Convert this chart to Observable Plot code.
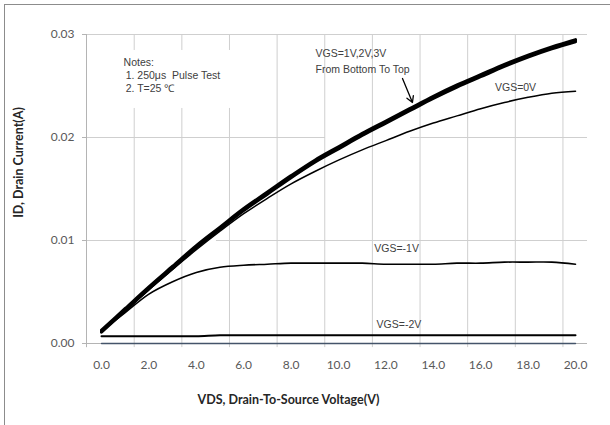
<!DOCTYPE html>
<html>
<head>
<meta charset="utf-8">
<script src="https://cdn.jsdelivr.net/npm/d3@7"></script>
<script src="https://cdn.jsdelivr.net/npm/@observablehq/plot@0.6"></script>
<style>
  html, body { margin: 0; padding: 0; background: white; }
  #wrap { position: relative; width: 610px; height: 425px; overflow: hidden; }
  #border { position: absolute; left: 4px; top: 4px; width: 700px; height: 500px;
            border-left: 1px solid #8c8c8c; border-top: 1px solid #8c8c8c; pointer-events: none; }
  svg text { white-space: pre; }
</style>
</head>
<body>
<div id="wrap"><div id="chart"></div><div id="border"></div></div>
<script>
// ---- data ----
const vds = [0,1,2,3,4,5,6,7,8,9,10,11,12,13,14,15,16,17,18,19,20];
const idVgs3 = [0.0013,0.0034,0.0055,0.0075,0.0095,0.0113,0.0131,0.0147,0.0163,0.0178,0.0191,0.0204,0.0216,0.0228,0.0240,0.0251,0.0261,0.0271,0.0280,0.0288,0.0295];
const idVgs2 = [0.0012,0.0033,0.0054,0.0074,0.0094,0.0112,0.0130,0.0146,0.0162,0.0177,0.0190,0.0203,0.0215,0.0227,0.0239,0.0250,0.0260,0.0270,0.0279,0.0287,0.0294];
const idVgs1 = [0.0011,0.0032,0.0053,0.0073,0.0093,0.0111,0.0129,0.0145,0.0161,0.0176,0.0189,0.0202,0.0214,0.0226,0.0238,0.0249,0.0259,0.0269,0.0278,0.0286,0.0293];
const idVgs0 = [0.0012,0.0032,0.0052,0.0072,0.0091,0.0109,0.0126,0.0141,0.0155,0.0167,0.0178,0.0188,0.0197,0.0206,0.0214,0.0221,0.0228,0.0234,0.0239,0.0243,0.0245];
const idVgsM1 = [0.0012,0.0030,0.0048,0.0060,0.0069,0.0074,0.0076,0.0077,0.0078,0.0078,0.0078,0.0078,0.0077,0.0077,0.0077,0.0078,0.0078,0.0079,0.0079,0.0079,0.0077];
const idVgsM2 = [0.0007,0.0007,0.0007,0.0007,0.0007,0.0008,0.0008,0.0008,0.0008,0.0008,0.0008,0.0008,0.0008,0.0008,0.0008,0.0008,0.0008,0.0008,0.0008,0.0008,0.0008];
const idVgsM3 = [0,0,0,0,0,0,0,0,0,0,0,0,0,0,0,0,0,0,0,0,0];

const xTicks = [0,2,4,6,8,10,12,14,16,18,20];
const xGrid = [-0.633,1.38,3.39,5.40,7.41,9.42,11.43,13.44,15.45,17.46,19.47];
const yTicks = [0,0.01,0.02,0.03];

const xDomain = [-0.633, 20.506];
const yDomain = [0, 0.03];

const toRows = (ys) => vds.map((x, i) => ({x, y: ys[i]}));

const gridColor = "#cfcfcf";
const axisColor = "#b4b4b4";
const labelColor = "#595959";
const noteColor = "#404040";
const noteFont = "Liberation Sans, Arial, sans-serif";

const notes = [
  {x: 0.93, y: 0.02728, t: "Notes:"},
  {x: 1.02, y: 0.02602, t: "1. 250\u03bcs  Pulse Test"},
  {x: 1.02, y: 0.02476, t: "2. T=25 \u2103"}
];
const leftLabels = [
  {x: 9.03, y: 0.02816, t: "VGS=1V,2V,3V"},
  {x: 9.03, y: 0.02660, t: "From Bottom To Top"}
];
const centerLabels = [
  {x: 17.47, y: 0.02485, t: "VGS=0V"},
  {x: 12.45, y: 0.00922, t: "VGS=-1V"},
  {x: 12.55, y: 0.00180, t: "VGS=-2V"}
];
// white boxes (hidden text boxes in the original that mask gridlines)
const masks = [
  {x1: 9.45, x2: 13.04, y1: 0.0198, y2: 0.0202},
  {x1: 3.59, x2: 4.85, y1: 0.0098, y2: 0.0102}
];
const notesBox = [{x1: 0.80, x2: 5.65, y1: 0.02282, y2: 0.02845}];

const chart = Plot.plot({
  width: 610,
  height: 425,
  marginLeft: 86,
  marginRight: 23,
  marginTop: 34,
  marginBottom: 82,
  style: {background: "white", overflow: "visible", fontFamily: "Lato, sans-serif"},
  x: {domain: xDomain},
  y: {domain: yDomain},
  marks: [
    Plot.ruleY(yTicks.slice(1), {stroke: gridColor, strokeWidth: 1}),
    Plot.rect(masks, {x1: "x1", x2: "x2", y1: "y1", y2: "y2", fill: "white"}),
    Plot.ruleX(xGrid, {y1: -0.0004, y2: 0.03, stroke: gridColor, strokeWidth: 1}),
    Plot.rect(notesBox, {x1: "x1", x2: "x2", y1: "y1", y2: "y2", fill: "white"}),
    Plot.ruleX([xDomain[0]], {y1: -0.0004, y2: 0.03, stroke: axisColor}),
    Plot.ruleY([0], {stroke: axisColor}),
    Plot.axisY({ticks: yTicks, tickFormat: ".2f", tickSize: 4, tickPadding: 8, stroke: axisColor, fill: labelColor, fontSize: 12, label: null}),
    Plot.axisX({ticks: xTicks, tickFormat: ".1f", tickSize: 0, tickPadding: 17, fill: labelColor, fontSize: 12, label: null}),
    Plot.line(toRows(idVgsM3), {x: "x", y: "y", stroke: "#44546a", strokeWidth: 1.3}),
    Plot.line(toRows(idVgsM2), {x: "x", y: "y", stroke: "black", strokeWidth: 2, curve: "catmull-rom"}),
    Plot.line(toRows(idVgsM1), {x: "x", y: "y", stroke: "black", strokeWidth: 1.6, curve: "catmull-rom"}),
    Plot.line(toRows(idVgs0), {x: "x", y: "y", stroke: "black", strokeWidth: 1.5, curve: "catmull-rom"}),
    Plot.line(toRows(idVgs1), {x: "x", y: "y", stroke: "black", strokeWidth: 3, curve: "catmull-rom"}),
    Plot.line(toRows(idVgs2), {x: "x", y: "y", stroke: "black", strokeWidth: 3, curve: "catmull-rom"}),
    Plot.line(toRows(idVgs3), {x: "x", y: "y", stroke: "black", strokeWidth: 3, curve: "catmull-rom"}),
    Plot.text(notes, {x: "x", y: "y", text: "t", textAnchor: "start", fill: noteColor, fontSize: 10.5, fontFamily: noteFont}),
    Plot.text(leftLabels, {x: "x", y: "y", text: "t", textAnchor: "start", fill: noteColor, fontSize: 10.5, fontFamily: noteFont}),
    Plot.text(centerLabels, {x: "x", y: "y", text: "t", textAnchor: "middle", fill: noteColor, fontSize: 10.5, fontFamily: noteFont}),
    Plot.arrow([{x1: 12.70, y1: 0.02573, x2: 13.12, y2: 0.0234}], {x1: "x1", y1: "y1", x2: "x2", y2: "y2", stroke: "black", strokeWidth: 1.3, headLength: 8, bend: 0}),
    Plot.text([{x: -3.50, y: 0.01757, t: "ID, Drain Current(A)"}], {x: "x", y: "y", text: "t", rotate: -90, fontWeight: "bold", fontSize: 12.5, fill: "#262626"}),
    Plot.text([{x: 7.89, y: -0.00553, t: "VDS, Drain-To-Source Voltage(V)"}], {x: "x", y: "y", text: "t", fontWeight: "bold", fontSize: 12.5, fill: "#262626"})
  ]
});
document.getElementById("chart").appendChild(chart);
</script>
</body>
</html>
